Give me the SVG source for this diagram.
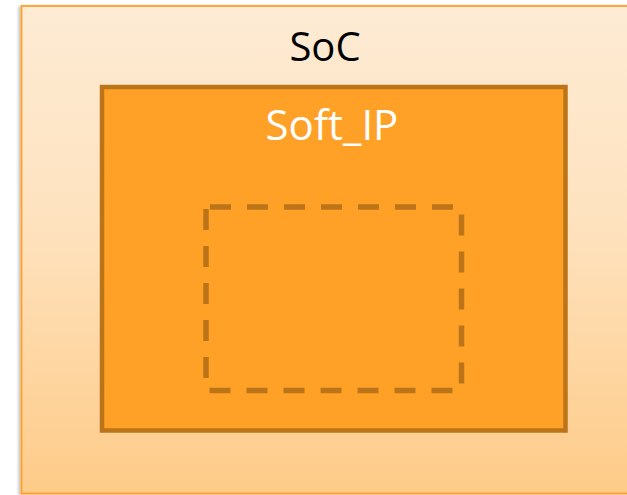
<svg xmlns="http://www.w3.org/2000/svg" width="627" height="495" viewBox="0 0 627 495">
  <defs>
    <linearGradient id="socFill" x1="0" y1="0" x2="0" y2="1">
      <stop offset="0" stop-color="#FDEBD4"/>
      <stop offset="0.45" stop-color="#FEE2BE"/>
      <stop offset="1" stop-color="#FECB88"/>
    </linearGradient>
    <filter id="shadow" x="-5%" y="-5%" width="110%" height="110%">
      <feDropShadow dx="-2" dy="1" stdDeviation="1.5" flood-color="#000" flood-opacity="0.25"/>
    </filter>
  </defs>
  <style>
    .label { font-family: "Open Sans", "Liberation Sans", sans-serif; text-anchor: middle; }
  </style>
  <rect width="627" height="495" fill="#FFFFFF"/>

  <!-- outer block -->
  <g id="soc">
    <rect x="21.5" y="6" width="620" height="487.5" fill="url(#socFill)" stroke="#FFA02A" stroke-width="1.8" filter="url(#shadow)"/>
    <text class="label" x="325" y="61" font-size="40" fill="#000000">SoC</text>
  </g>

  <!-- soft IP block -->
  <g id="soft_ip">
    <rect x="102" y="87" width="463.5" height="343.5" fill="#FFA126" stroke="#BC7418" stroke-width="4.5"/>
    <text class="label" x="332" y="140" font-size="42" fill="#FFFFFF">Soft_IP</text>
  </g>

  <!-- inner placeholder block -->
  <g id="placeholder">
    <rect x="206" y="207" width="255.5" height="183.5" fill="none" stroke="#BC7418" stroke-width="5.5" stroke-dasharray="21 16" stroke-dashoffset="-4"/>
  </g>

  <g id="connectors"/>
</svg>
